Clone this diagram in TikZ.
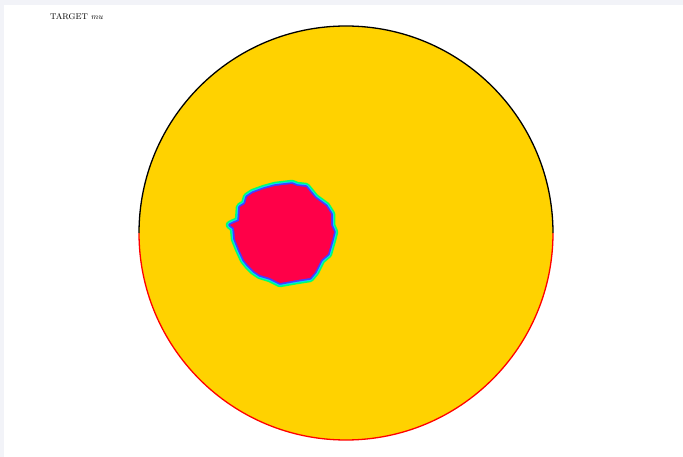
\documentclass[tikz,border=0pt]{standalone}
\begin{document}
\begin{tikzpicture}[x=1pt,y=-1pt,
  disk/.style={fill=diskyellow},
  band/.style={line join=round}]
\definecolor{diskyellow}{RGB}{255,210,0}
\definecolor{bg}{RGB}{242,243,248}
\definecolor{blobred}{RGB}{255,0,72}
\definecolor{bgreen}{RGB}{0,255,110}
\definecolor{bcyan}{RGB}{0,220,255}
\definecolor{bblue}{RGB}{70,60,255}
\useasboundingbox (0,0) rectangle (683,457);
\fill[bg] (0,0) rectangle (683,457);
\fill[white] (4,5) rectangle (683,457);
\node[anchor=base west,inner sep=0pt,font=\fontsize{8.3}{9}\selectfont] (title) at (50,19.5) {TARGET {\itshape mu}};
\coordinate (c) at (346,233);
\fill[disk] (c) circle (207);
\draw[red,line width=1.3pt] (139,233) arc[start angle=180,end angle=0,radius=207];
\draw[black,line width=1.3pt] (139,233) arc[start angle=180,end angle=360,radius=207];
\def\blob{(247,197) -- (253,193) -- (264,189) -- (275,186) -- (292,184) -- (297,186) -- (306,187) -- (315,198) -- (326,206) -- (331,214) -- (331,225) -- (334,232) -- (332,240) -- (328,254) -- (321,260) -- (315,272) -- (310,278) -- (297,280) -- (280,283) -- (270,278) -- (260,275) -- (254,271) -- (248,265) -- (244,260) -- (239,249) -- (235,239) -- (234,228) -- (230,225) -- (234,223) -- (239,221) -- (240,207) -- (245,204) -- cycle}
\draw[bgreen,line width=8.5pt,band] \blob;
\draw[bcyan,line width=5.5pt,band] \blob;
\draw[bblue,line width=3.5pt,band] \blob;
\fill[blobred] \blob;
\end{tikzpicture}
\end{document}
